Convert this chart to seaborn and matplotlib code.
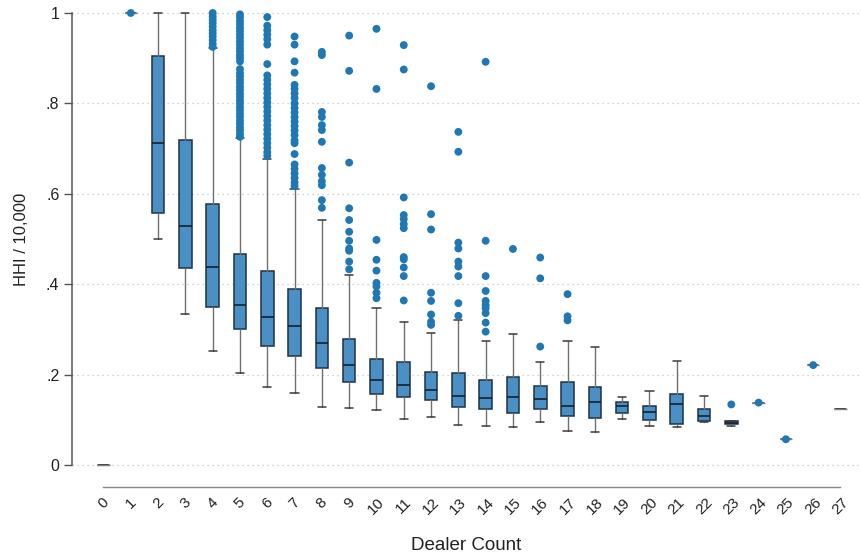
import numpy as np
import pandas as pd
import matplotlib
matplotlib.use("Agg")
import matplotlib.pyplot as plt
import seaborn as sns

# ---------------- data ----------------
categories = list(range(28))
whisker_low = [0.0, 1.0, 0.500, 0.333, 0.252, 0.204, 0.172, 0.159, 0.129, 0.127,
               0.122, 0.102, 0.107, 0.088, 0.086, 0.083, 0.096, 0.075, 0.072, 0.101,
               0.087, 0.083, 0.096, 0.087, 0.138, 0.057, 0.221, 0.125]
q1 = [0.0, 1.0, 0.557, 0.435, 0.349, 0.300, 0.264, 0.241, 0.214, 0.184,
      0.157, 0.150, 0.144, 0.129, 0.123, 0.116, 0.125, 0.108, 0.105, 0.114,
      0.100, 0.091, 0.098, 0.091, 0.138, 0.057, 0.221, 0.125]
median = [0.0, 1.0, 0.713, 0.529, 0.439, 0.354, 0.327, 0.308, 0.269, 0.221,
          0.188, 0.177, 0.167, 0.153, 0.149, 0.151, 0.147, 0.131, 0.139, 0.131,
          0.117, 0.136, 0.108, 0.094, 0.138, 0.057, 0.221, 0.125]
q3 = [0.0, 1.0, 0.905, 0.718, 0.577, 0.467, 0.429, 0.389, 0.347, 0.279,
      0.235, 0.227, 0.206, 0.204, 0.188, 0.195, 0.175, 0.184, 0.172, 0.139,
      0.131, 0.156, 0.125, 0.097, 0.138, 0.057, 0.221, 0.125]
whisker_high = [0.0, 1.0, 1.0, 1.0, 0.922, 0.723, 0.676, 0.610, 0.542, 0.420,
                0.347, 0.317, 0.293, 0.321, 0.274, 0.289, 0.227, 0.274, 0.262, 0.150,
                0.164, 0.229, 0.153, 0.097, 0.138, 0.057, 0.221, 0.125]
outliers = [
    [],
    [1.0],
    [],
    [],
    [0.925, 0.932, 0.94, 0.948, 0.955, 0.962, 0.97, 0.978, 0.985, 0.992, 1.0],
    [0.997, 0.99, 0.982, 0.975, 0.967, 0.96, 0.952, 0.945, 0.937, 0.93, 0.922, 0.915,
     0.907, 0.9, 0.893, 0.876, 0.867, 0.86, 0.852, 0.845, 0.837, 0.83, 0.822, 0.815,
     0.807, 0.8, 0.792, 0.785, 0.777, 0.77, 0.762, 0.755, 0.747, 0.74, 0.732, 0.726],
    [0.991, 0.972, 0.962, 0.952, 0.942, 0.93, 0.887, 0.862, 0.852, 0.842, 0.832,
     0.822, 0.812, 0.802, 0.792, 0.782, 0.772, 0.762, 0.752, 0.742, 0.732, 0.722,
     0.712, 0.702, 0.692, 0.684],
    [0.948, 0.930, 0.893, 0.868, 0.841, 0.832, 0.822, 0.812, 0.80, 0.79, 0.78, 0.77,
     0.76, 0.75, 0.74, 0.73, 0.718, 0.712, 0.688, 0.665, 0.655, 0.645, 0.635, 0.625,
     0.617],
    [0.914, 0.907, 0.781, 0.770, 0.752, 0.741, 0.715, 0.657, 0.642, 0.628, 0.619,
     0.586, 0.569],
    [0.950, 0.872, 0.669, 0.568, 0.542, 0.516, 0.496, 0.479, 0.474, 0.450, 0.433],
    [0.965, 0.832, 0.498, 0.454, 0.430, 0.403, 0.395, 0.381, 0.369],
    [0.929, 0.875, 0.592, 0.553, 0.544, 0.533, 0.524, 0.460, 0.455, 0.437, 0.418,
     0.364],
    [0.838, 0.555, 0.521, 0.381, 0.363, 0.333, 0.317, 0.310],
    [0.737, 0.693, 0.492, 0.479, 0.450, 0.439, 0.418, 0.358, 0.330],
    [0.892, 0.496, 0.418, 0.385, 0.363, 0.354, 0.347, 0.336, 0.315, 0.295],
    [0.478],
    [0.459, 0.413, 0.262],
    [0.378, 0.329, 0.320],
    [],
    [],
    [],
    [],
    [],
    [0.134],
    [0.138],
    [0.057],
    [0.221],
    [],
]
y_ticks = [0, 0.2, 0.4, 0.6, 0.8, 1.0]
y_tick_labels = ["0", ".2", ".4", ".6", ".8", "1"]
x_label = "Dealer Count"
y_label = "HHI / 10,000"

# ---------------- style ----------------
sns.set_theme(style="white")
plt.rcParams["font.family"] = ["Liberation Sans", "DejaVu Sans"]

W, H = 862, 556
fig = plt.figure(figsize=(W / 100, H / 100), dpi=100)
ax_left, ax_right, ax_top, ax_bottom = 72, 860, 5, 487
ax = fig.add_axes([ax_left / W, (H - ax_bottom) / H,
                   (ax_right - ax_left) / W, (ax_bottom - ax_top) / H])

box_face = "#4a90c4"
box_edge = "#1e3246"
dot_color = "#1f77b4"

stats = []
for i in categories:
    stats.append(dict(whislo=whisker_low[i], q1=q1[i], med=median[i], q3=q3[i],
                      whishi=whisker_high[i], fliers=[]))

bp = ax.bxp(stats, positions=categories, widths=0.46, capwidths=0.3,
            patch_artist=True, showfliers=False,
            boxprops=dict(facecolor=box_face, edgecolor=box_edge, linewidth=1.1),
            medianprops=dict(color="#15222e", linewidth=1.2),
            whiskerprops=dict(color="#707070", linewidth=1.0),
            capprops=dict(color="#3a3a3a", linewidth=1.1),
            manage_ticks=False, zorder=2)

for i, patch in enumerate(bp["boxes"]):
    if q3[i] - q1[i] < 1e-9:
        patch.set_edgecolor("#808080")
        bp["medians"][i].set_color("#808080")
        bp["medians"][i].set_linewidth(1.0)

ox, oy = [], []
for i in categories:
    for v in outliers[i]:
        ox.append(i)
        oy.append(v)
df_out = pd.DataFrame({"dealers": ox, "hhi": oy})
sns.scatterplot(data=df_out, x="dealers", y="hhi", ax=ax, color=dot_color,
                s=32, edgecolor="none", linewidth=0, zorder=3, legend=False)

# ---------------- axes ----------------
ax.set_ylim((465 - ax_bottom) / 452, (465 - ax_top) / 452)
px_per_unit = (840.5 - 103.5) / 27
ax.set_xlim(-(103.5 - ax_left) / px_per_unit, 27 + (ax_right - 840.5) / px_per_unit)

ax.set_yticks(y_ticks)
ax.set_yticklabels(y_tick_labels)
ax.set_xticks(categories)
ax.set_xticklabels([str(c) for c in categories], rotation=45, ha="center",
                   va="top", rotation_mode="default")

ax.tick_params(axis="y", length=6, width=1, color="#555555", pad=3,
               labelsize=11.5, labelcolor="#222222", left=True)
ax.tick_params(axis="x", length=0, pad=6, labelsize=11, labelcolor="#222222",
               bottom=True)

ax.grid(False)
for yv in y_ticks:
    ax.axhline(yv, color="#c4c4c4", linewidth=0.9, linestyle=(0, (1, 3)), zorder=0)

for s in ["top", "right"]:
    ax.spines[s].set_visible(False)
ax.spines["left"].set_bounds(0, 1)
ax.spines["left"].set_color("#555555")
ax.spines["left"].set_linewidth(1.1)
ax.spines["bottom"].set_bounds(0, 27)
ax.spines["bottom"].set_color("#888888")
ax.spines["bottom"].set_linewidth(1.0)

ax.set_xlabel(x_label, fontsize=13.5, color="#222222", labelpad=14)
ax.set_ylabel(y_label, fontsize=12, color="#222222")
ax.yaxis.set_label_coords((29 - ax_left) / (ax_right - ax_left),
                          (ax_bottom - 239) / (ax_bottom - ax_top))
ax.set_facecolor("white")

fig.savefig("out.png", dpi=100, facecolor="white")
